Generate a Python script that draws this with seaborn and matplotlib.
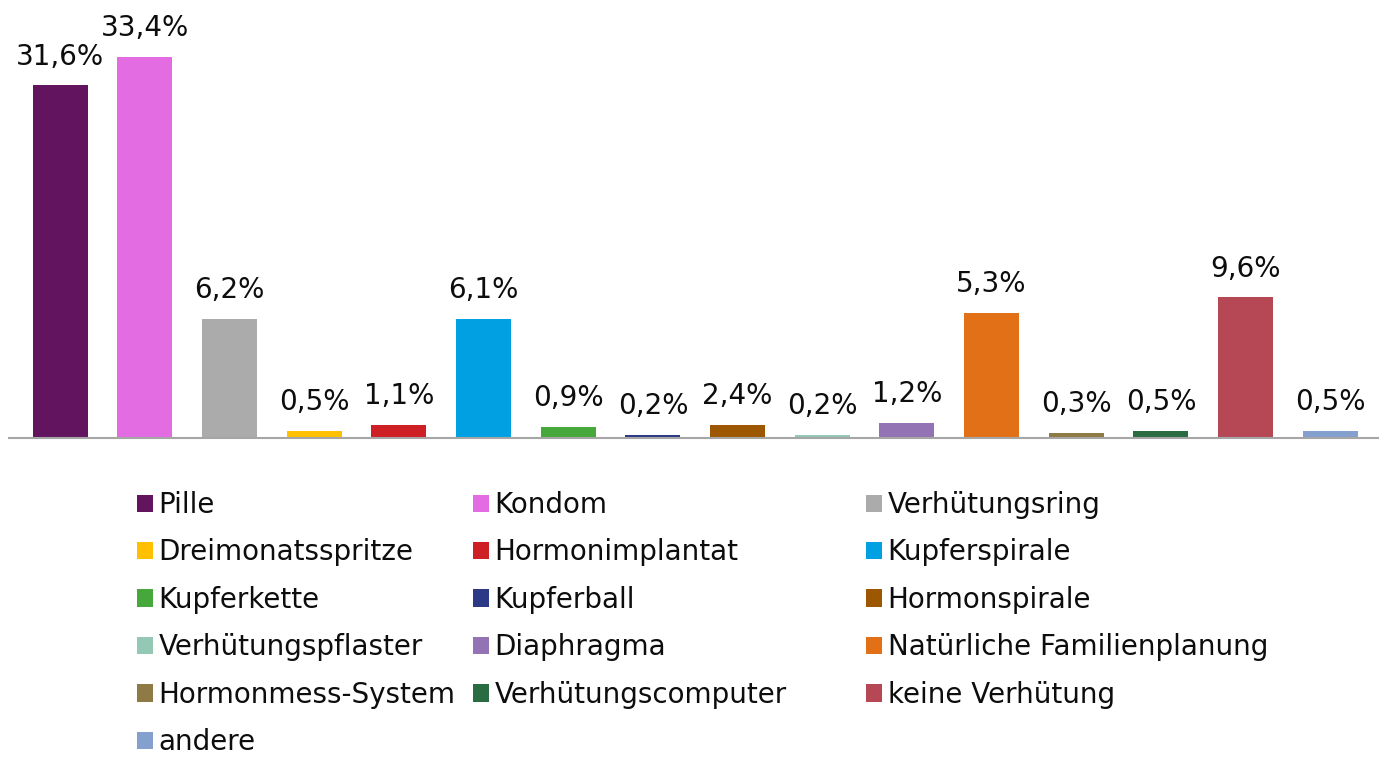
import matplotlib
matplotlib.use("Agg")
import matplotlib.pyplot as plt
import matplotlib.patches as mpatches
import seaborn as sns

categories = ["Pille", "Kondom", "Verhütungsring", "Dreimonatsspritze", "Hormonimplantat",
              "Kupferspirale", "Kupferkette", "Kupferball", "Hormonspirale",
              "Verhütungspflaster", "Diaphragma", "Natürliche Familienplanung",
              "Hormonmess-System", "Verhütungscomputer", "keine Verhütung", "andere"]
# bar heights as drawn in the reference (in % scale of the axis)
bar_values = [30.9, 33.4, 10.4, 0.53, 1.05, 10.4, 0.88, 0.2, 1.05, 0.2, 1.23, 10.9,
              0.35, 0.53, 12.3, 0.53]
# data labels as printed in the reference
value_labels = ["31,6%", "33,4%", "6,2%", "0,5%", "1,1%", "6,1%", "0,9%", "0,2%", "2,4%",
                "0,2%", "1,2%", "5,3%", "0,3%", "0,5%", "9,6%", "0,5%"]
colors = ["#62145F", "#E36CE3", "#ABABAB", "#FFC000", "#CE1F24", "#00A0E3", "#46A83B",
          "#2C3986", "#9C5700", "#93C9B4", "#9373B4", "#E27016", "#8E7A44", "#2A6C41",
          "#B64856", "#84A0CF"]

sns.set_theme(style="white")
plt.rcParams["font.family"] = ["DejaVu Sans"]

W, H = 1386, 758
PX = 11.377  # pixels per unit
fig = plt.figure(figsize=(W / 100, H / 100), dpi=100)
ax_left, ax_right = 9, 1378
ax_bottom, ax_top = 438.3, 20
ax = fig.add_axes([ax_left / W, 1 - ax_bottom / H, (ax_right - ax_left) / W, (ax_bottom - ax_top) / H])

palette = dict(zip(categories, colors))
sns.barplot(x=categories, y=bar_values, hue=categories, palette=palette, legend=False,
            width=0.65, saturation=1, ax=ax, order=categories, hue_order=categories,
            linewidth=0)

ax.set_xlim(-0.606, 15.564)
ax.set_ylim(-1.3 / PX, (ax_bottom - ax_top - 1.3) / PX)
ax.set_xticks([])
ax.set_yticks([])
ax.set_xlabel("")
ax.set_ylabel("")
for s in ["top", "left", "right"]:
    ax.spines[s].set_visible(False)
ax.spines["bottom"].set_color("#A6A6A6")
ax.spines["bottom"].set_linewidth(1.5)

for i, (v, lab) in enumerate(zip(bar_values, value_labels)):
    ax.annotate(lab, xy=(i, v), xytext=(0, 14.8), textcoords="offset points",
                ha="center", va="baseline", fontsize=20, color="#0D0D0D")

# legend: three columns, row-major order like the reference
ncol = 3
col_x = [137, 473, 866]
for c in range(ncol):
    idx = list(range(c, len(categories), ncol))
    handles = [mpatches.Patch(facecolor=colors[k], edgecolor="none") for k in idx]
    labels = [categories[k] for k in idx]
    fig.legend(handles, labels, loc="upper left",
               bbox_to_anchor=(col_x[c] / W, 1 - 491 / H),
               frameon=False, fontsize=20, handlelength=0.58, handleheight=0.58,
               handletextpad=0.2, labelspacing=0.7, borderpad=0, borderaxespad=0,
               labelcolor="#0D0D0D")

fig.savefig("out.png", dpi=100, facecolor="white")
